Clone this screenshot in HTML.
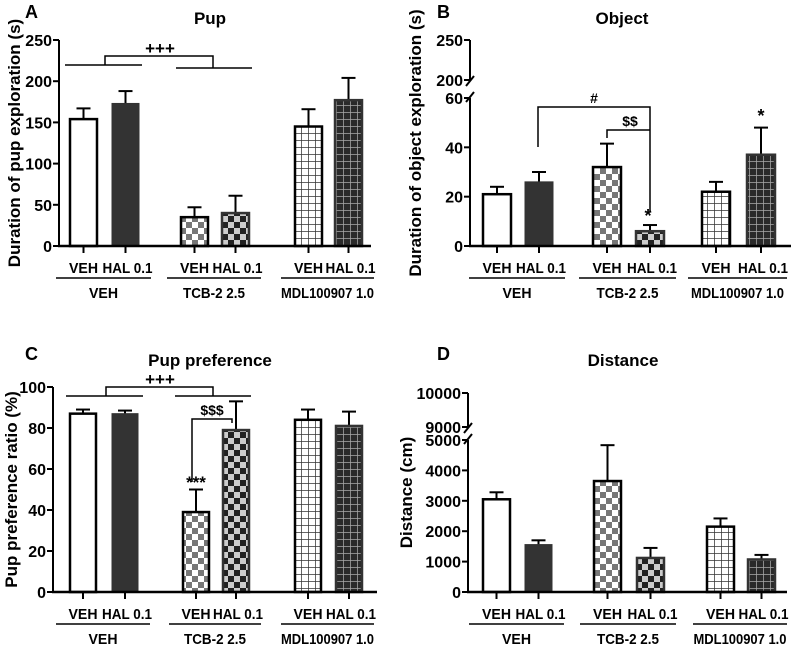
<!DOCTYPE html>
<html><head><meta charset="utf-8"><style>
body{margin:0;background:#fff;}
svg{display:block;font-family:"Liberation Sans",Arial,sans-serif;font-weight:bold;}
</style></head><body>
<svg id="s" width="800" height="648" viewBox="0 0 800 648">
<defs>
<pattern id="chkL" width="12" height="12" patternUnits="userSpaceOnUse"><rect width="12" height="12" fill="#fff"/><rect width="6" height="6" fill="#777"/><rect x="6" y="6" width="6" height="6" fill="#777"/></pattern>
<pattern id="chkD" width="12" height="12" patternUnits="userSpaceOnUse"><rect width="12" height="12" fill="#ccc"/><rect width="6" height="6" fill="#222"/><rect x="6" y="6" width="6" height="6" fill="#222"/></pattern>
<pattern id="grdL" width="7" height="7" patternUnits="userSpaceOnUse"><rect width="7" height="7" fill="#fff"/><path d="M0 0H7M0 0V7" stroke="#333" stroke-width="1.5"/></pattern>
<pattern id="grdD" width="7" height="7" patternUnits="userSpaceOnUse"><rect width="7" height="7" fill="#2a2a2a"/><path d="M0 0H7M0 0V7" stroke="#aaa" stroke-width="1.5"/></pattern>
</defs>
</svg>
<script>
const fills=['#fff','#333','url(#chkL)','url(#chkD)','url(#grdL)','url(#grdD)'];
const barLabels=['VEH','HAL 0.1','VEH','HAL 0.1','VEH','HAL 0.1'];
const groupLabels=['VEH','TCB-2 2.5','MDL100907 1.0'];
const aValues=[154,173,35,40,145,177];
const aErrTop=[167,188,47,61,166,204];
const aTicks=[0,50,100,150,200,250];
const bValues=[21,26,32,6,22,37];
const bErrTop=[24,30,41.5,8.5,26,48];
const bTicks=[0,20,40,60];
const bTicksUp=[200,250];
const cValues=[87,87,39,79,84,81];
const cErrTop=[89,88.5,50,93,89,88];
const cTicks=[0,20,40,60,80,100];
const dValues=[3050,1560,3650,1120,2150,1070];
const dErrTop=[3280,1700,4830,1450,2420,1220];
const dTicks=[0,1000,2000,3000,4000,5000];
const dTicksUp=[9000,10000];

const S=document.getElementById('s');
const NS='http://www.w3.org/2000/svg';
function el(tag,attrs,parent,text){const e=document.createElementNS(NS,tag);for(const k in attrs)e.setAttribute(k,attrs[k]);if(text!==undefined)e.textContent=text;(parent||S).appendChild(e);return e;}
function line(x1,y1,x2,y2,g,w){return el('line',{x1,y1,x2,y2,stroke:'#000','stroke-width':w||2},g);}
const labW={'VEH':29,'HAL 0.1':50,'TCB-2 2.5':62,'MDL100907 1.0':93};

function panel(o){
  const g=el('g',{});
  
  
  const y=v=> v<=o.lowMax ? o.y0-(v/o.lowMax)*(o.y0-o.yLowTop) : o.yUpBot-((v-o.upMin)/(o.upMax-o.upMin))*(o.yUpBot-o.yUpTop);
  const t1=el('text',{x:o.letterX,y:o.letterY,'font-size':18},g,o.letter);
  
  const t2=el('text',{x:o.titleX,y:o.letterY+6,'font-size':17,'text-anchor':'middle'},g,o.title);
  
  if(o.upMin!==undefined){
    line(o.ax,o.y0,o.ax,o.yLowTop,g);line(o.ax,o.yUpBot,o.ax,o.yUpTop,g);
    line(o.ax-4,o.yLowTop+4,o.ax+4,o.yLowTop-6,g);line(o.ax-4,o.yUpBot+6,o.ax+4,o.yUpBot-4,g);
  } else line(o.ax,o.y0,o.ax,y(o.ticks[o.ticks.length-1]),g);
  const allT=o.ticks.concat(o.ticksUp||[]);
  allT.forEach(v=>{const yy=y(v);line(o.ax-6,yy,o.ax,yy,g);
    const t=el('text',{x:o.ax-7,y:yy+6,'font-size':16,'text-anchor':'end'},g,String(v));
    });
  const yt=el('text',{x:0,y:0,'font-size':17,'text-anchor':'middle',transform:`translate(${o.ytx},${(o.y0+o.yTop)/2}) rotate(-90)`},g,o.ytitle);
  
  o.values.forEach((v,i)=>{
    const x1=o.bx[i],x2=o.bx[i]+o.bw,cx=(x1+x2)/2;
    line(cx,y(v),cx,y(o.err[i]),g);line(cx-7,y(o.err[i]),cx+7,y(o.err[i]),g);
    const r=el('rect',{x:x1,y:y(v),width:o.bw,height:o.y0-y(v),fill:fills[i],stroke:(i==5||i==3||i==1)?'#333':'#000','stroke-width':(i==1?1:2.5)},g);
    
    line(cx,o.y0,cx,o.y0+7,g);
    const t=el('text',{x:cx+(i%2?2:0),y:o.y0+27,'font-size':15,'text-anchor':'middle',textLength:labW[barLabels[i]],lengthAdjust:'spacingAndGlyphs'},g,barLabels[i]);
    
  });
  line(o.ax-1,o.y0,o.axEnd,o.y0,g,2.5);
  groupLabels.forEach((lab,j)=>{
    const a=o.bx[2*j]-14,b=o.bx[2*j+1]+o.bw+12;
    line(a,o.y0+32,b,o.y0+32,g,1.5);
    const t=el('text',{x:(a+b)/2,y:o.y0+52,'font-size':15,'text-anchor':'middle',textLength:labW[lab],lengthAdjust:'spacingAndGlyphs'},g,lab);
    
  });
  return {g,y};
}

const A=panel({name:'panel-a',letter:'A',letterX:25,letterY:18,title:'Pup',titleX:210,ax:59,y0:246,yLowTop:40,lowMax:250,yTop:40,ticks:aTicks,values:aValues,err:aErrTop,bx:[70,112,181,222,295,335],bw:27,axEnd:371,ytitle:'Duration of pup exploration (s)',ytx:20});
const B=panel({name:'panel-b',letter:'B',letterX:437,letterY:18,title:'Object',titleX:622,ax:470,y0:246,yLowTop:98,lowMax:60,upMin:200,upMax:250,yUpBot:80,yUpTop:40,yTop:40,ticks:bTicks,ticksUp:bTicksUp,values:bValues,err:bErrTop,bx:[483,525,593,636,702,747],bw:28,axEnd:791,ytitle:'Duration of object exploration (s)',ytx:421});
const C=panel({name:'panel-c',letter:'C',letterX:25,letterY:360,title:'Pup preference',titleX:210,ax:53,y0:592,yLowTop:387,lowMax:100,yTop:387,ticks:cTicks,values:cValues,err:cErrTop,bx:[70,112,183,223,295,336],bw:26,axEnd:377,ytitle:'Pup preference ratio (%)',ytx:17});
const D=panel({name:'panel-d',letter:'D',letterX:437,letterY:360,title:'Distance',titleX:623,ax:468,y0:592,yLowTop:440,lowMax:5000,upMin:9000,upMax:10000,yUpBot:427,yUpTop:393,yTop:393,ticks:dTicks,ticksUp:dTicksUp,values:dValues,err:dErrTop,bx:[483,525,594,637,707,748],bw:27,axEnd:787,ytitle:'Distance (cm)',ytx:412});

function txt(g,x,y,s,name,fs){const t=el('text',{x,y,'font-size':fs||13,'text-anchor':'middle'},g,s);}
function poly(g,pts){el('polyline',{points:pts,fill:'none',stroke:'#000','stroke-width':1.5},g);}
poly(A.g,'65,65 142,65');poly(A.g,'176,68 252,68');poly(A.g,'105,65 105,56 213,56 213,68');
txt(A.g,160,54,'+++','sig-plus',17);
poly(B.g,'538,147 538,107 650,107 650,212');poly(B.g,'607,138 607,130 650,130');
txt(B.g,594,103,'#','sig-hash',14);txt(B.g,630,126,'$$','sig-dollar',14);
txt(B.g,648,222,'*','sig-star',18);txt(B.g,761,122,'*','sig-star',18);
poly(C.g,'66,396 143,396');poly(C.g,'175,396 251,396');poly(C.g,'106,396 106,387 213,387 213,396');
txt(C.g,160,385,'+++','sig-plus',17);
poly(C.g,'192,482 192,419 232,419 232,423');txt(C.g,212,415,'$$$','sig-dollar',14);
txt(C.g,196,488,'***','sig-star',17);
</script>
</body></html>
